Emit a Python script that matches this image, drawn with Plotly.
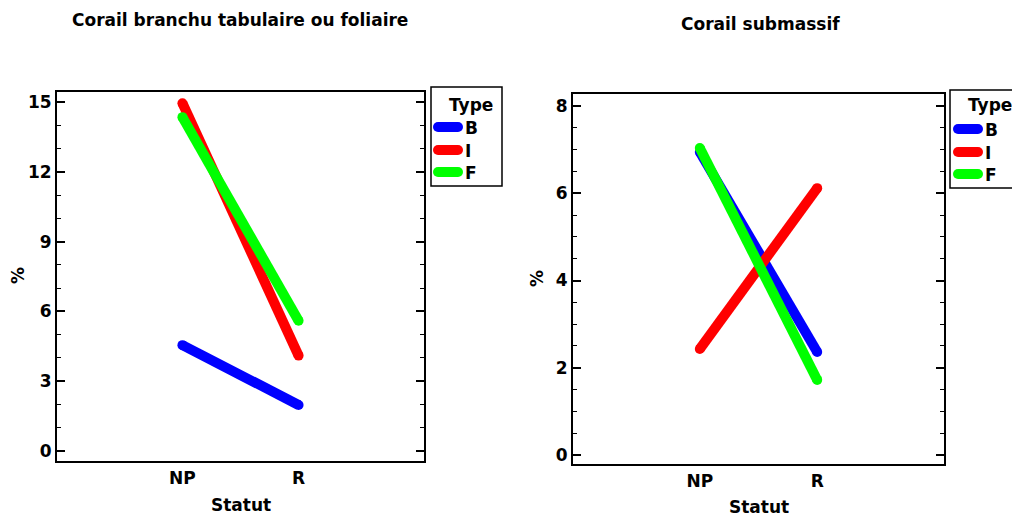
import plotly.graph_objects as go

W, H = 1012, 517

# Data ---------------------------------------------------------------
statut = ["NP", "R"]
types = ["B", "I", "F"]
colors = {"B": "#0000FF", "I": "#FF0000", "F": "#00FF00"}

branchu_B = [4.55, 1.98]
branchu_I = [14.95, 4.10]
branchu_F = [14.35, 5.60]

submassif_B = [6.95, 2.36]
submassif_I = [2.43, 6.12]
submassif_F = [7.04, 1.72]

panels = [
    {"B": branchu_B, "I": branchu_I, "F": branchu_F},
    {"B": submassif_B, "I": submassif_I, "F": submassif_F},
]

# Pixel -> paper helpers ----------------------------------------------
def px(x):
    return x / W


def py(y):
    return 1 - y / H


FONT = "DejaVu Sans, Liberation Sans, Arial, sans-serif"
FS = 17
LW = 10

fig = go.Figure()

for i, data in enumerate(panels):
    xa = "x" if i == 0 else "x2"
    ya = "y" if i == 0 else "y2"
    for t in types:
        fig.add_trace(go.Scatter(
            x=statut, y=data[t], xaxis=xa, yaxis=ya,
            mode="lines+markers", name=t, showlegend=False,
            line=dict(color=colors[t], width=LW),
            marker=dict(color=colors[t], size=LW, line=dict(width=0)),
            hoverinfo="skip",
        ))

axis_common = dict(
    showline=True, linecolor="black", linewidth=2, mirror="ticks",
    showgrid=False, zeroline=False,
)

xcommon = dict(
    axis_common, type="category", range=[-1.08, 2.08], ticks="",
    tickfont=dict(family=FONT, size=FS, color="black", weight="bold"),
    ticklabelstandoff=1,
)
ycommon = dict(
    axis_common, ticks="inside", ticklen=8, tickwidth=1.5, tickcolor="black",
    tickfont=dict(family=FONT, size=FS, color="black", weight="bold"),
)

fig.update_layout(
    width=W, height=H,
    margin=dict(l=0, r=0, t=0, b=0),
    paper_bgcolor="white", plot_bgcolor="white",
    showlegend=False,
    xaxis=dict(xcommon, domain=[px(57), px(424)], anchor="y"),
    yaxis=dict(ycommon, domain=[py(461), py(92)], anchor="x",
               range=[-0.43, 15.43], tickvals=[0, 3, 6, 9, 12, 15],
               minor=dict(dtick=1, tick0=0, ticks="inside", ticklen=4,
                          tickwidth=1.2, tickcolor="black")),
    xaxis2=dict(xcommon, domain=[px(573), px(944)], anchor="y2"),
    yaxis2=dict(ycommon, domain=[py(464), py(94)], anchor="x2",
                range=[-0.21, 8.28], tickvals=[0, 2, 4, 6, 8],
                minor=dict(dtick=0.5, tick0=0, ticks="inside", ticklen=4,
                           tickwidth=1.2, tickcolor="black")),
)

annotations = []


def text(x, y, s, size=FS, xanchor="center", angle=0):
    annotations.append(dict(
        x=px(x), y=py(y), xref="paper", yref="paper", text=s,
        showarrow=False, xanchor=xanchor, yanchor="middle", textangle=angle,
        font=dict(family=FONT, size=size, color="black", weight="bold"),
    ))


# Titles and axis titles
text(240, 20, "Corail branchu tabulaire ou foliaire")
text(760, 24, "Corail submassif")
text(18, 276, "%", angle=-90)
text(537, 279, "%", angle=-90)
text(241, 505, "Statut")
text(759, 507, "Statut")

# Hand-drawn legends (boxed, with rounded swatches)
shapes = []
legends = [
    dict(box=(431, 87, 502, 186), title_x=471, title_anchor="center",
         sw=(438, 458), tx=463, rows=(127, 150, 172)),
    dict(box=(950, 90, 1030, 188), title_x=966, title_anchor="left",
         sw=(958, 978), tx=983, rows=(129, 152, 174)),
]
for lg in legends:
    x0, y0, x1, y1 = lg["box"]
    shapes.append(dict(type="rect", xref="paper", yref="paper",
                       x0=px(x0), x1=px(x1), y0=py(y1), y1=py(y0),
                       line=dict(color="black", width=1.5),
                       fillcolor="white", layer="above"))
    text(lg["title_x"], 105, "Type", xanchor=lg["title_anchor"])
    for t, yy in zip(types, lg["rows"]):
        sx0, sx1 = lg["sw"]
        shapes.append(dict(type="line", xref="paper", yref="paper",
                           x0=px(sx0), x1=px(sx1), y0=py(yy), y1=py(yy),
                           line=dict(color=colors[t], width=LW), layer="above"))
        for cx in (sx0, sx1):
            shapes.append(dict(type="circle", xref="paper", yref="paper",
                               xsizemode="pixel", ysizemode="pixel",
                               xanchor=px(cx), yanchor=py(yy),
                               x0=-LW / 2, x1=LW / 2, y0=-LW / 2, y1=LW / 2,
                               fillcolor=colors[t], line=dict(width=0),
                               layer="above"))
        text(lg["tx"], yy + 1, t, xanchor="left")

fig.update_layout(annotations=annotations, shapes=shapes)

fig.write_html("out.html")
